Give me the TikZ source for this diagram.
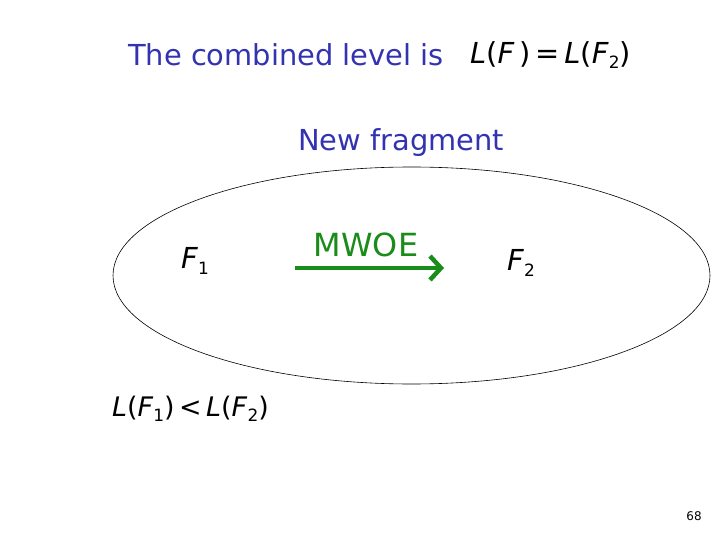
\documentclass[tikz,border=0pt]{standalone}
\usepackage{fontspec}
\setmainfont{DejaVu Sans}
\usetikzlibrary{arrows.meta,positioning}
\definecolor{slideblue}{rgb}{0.2,0.2,0.7}
\definecolor{edgegreen}{rgb}{0.1,0.55,0.1}
\newcommand{\subidx}[1]{\raisebox{-0.35ex}{\fontsize{17}{18}\selectfont #1}}

\begin{document}
\begin{tikzpicture}[x=1bp,y=-1bp,
    title/.style={text=slideblue,font=\fontsize{29}{34}\selectfont,inner sep=0pt},
    formula/.style={font=\fontsize{29}{34}\selectfont,inner sep=0pt}]
          % Page frame
          \useasboundingbox[fill=white] (0,0) rectangle (720,540);
          % Heading
          \node[title,anchor=west] (head) at (128,55) {The combined level is};
          \node[formula,anchor=west] (level) at (470,55) {\textit{L}(\textit{F}\,)\,=\,\textit{L}(\textit{F}\subidx{2})};
          \node[title] (newfrag) at (401,143) {New fragment};
          % Fragment boundary
          \draw[line width=0.6pt] (411.5,275.5) ellipse (298.5 and 108.5);
          % The two fragments
          \node[formula] (f1) at (195,261) {\textit{F}\subidx{1}};
          \node[formula] (f2) at (521,263) {\textit{F}\subidx{2}};
          % Minimum weight outgoing edge
          \coordinate (mstart) at (295,268);
          \coordinate (mend) at (444,268);
          \draw[edgegreen,line width=4pt,-{Straight Barb[length=11pt,width=24pt,line width=4.5pt]}] (mstart) -- (mend);
          \node[text=edgegreen,font=\fontsize{32}{36}\selectfont,inner sep=0pt] (mwoe) at (366,245) {MWOE};
          % Levels
          \node[formula,font=\fontsize{27}{32}\selectfont,anchor=west] (cmp) at (112,409) {\textit{L}(\textit{F}\subidx{1})\,<\,\textit{L}(\textit{F}\subidx{2})};
          % Slide number
          \node[font=\fontsize{12}{14}\selectfont] (pageno) at (694,516) {68};
        \end{tikzpicture}
\end{document}
